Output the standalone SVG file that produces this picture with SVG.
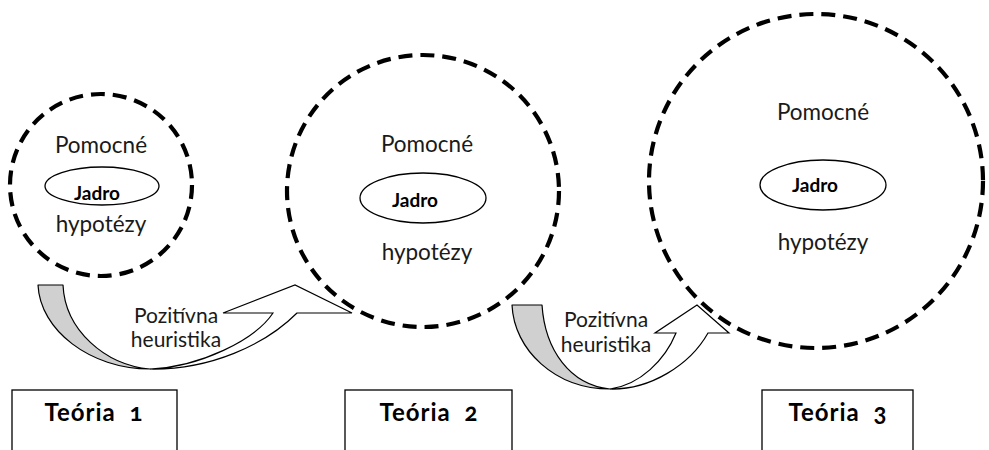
<svg xmlns="http://www.w3.org/2000/svg" width="989" height="450" viewBox="0 0 989 450">
<style>
.dash{fill:none;stroke:#000;stroke-width:4.2;stroke-dasharray:14 8}
.core{fill:#fff;stroke:#000;stroke-width:1.3}
.t{font-family:Lato,"Open Sans","DejaVu Sans",sans-serif;font-size:22.5px;fill:#1a1a1a;text-anchor:middle}
.j{font-family:Lato,"Open Sans","DejaVu Sans",sans-serif;font-size:19px;font-weight:bold;fill:#000;text-anchor:middle}
.h{font-family:Lato,"Open Sans","DejaVu Sans",sans-serif;font-size:21px;fill:#1a1a1a;text-anchor:middle}
.box{fill:#fff;stroke:#000;stroke-width:1.3}
.bt{font-family:Lato,"Open Sans","DejaVu Sans",sans-serif;font-size:24px;font-weight:bold;fill:#000;text-anchor:middle;letter-spacing:1px;word-spacing:7px;font-variant-numeric:oldstyle-nums}
.gray{fill:#d0d0d0;stroke:#000;stroke-width:1.2;stroke-linejoin:round}
.white{fill:#fff;stroke:#000;stroke-width:1.2;stroke-linejoin:miter}
</style>
<g id="connectors">
  <g id="arrow1">
    <path class="gray" d="M38,285 L63,285 C65,330 105,365 150,369 C90,369 40,330 38,285 Z"/>
    <path class="white" d="M150,369 C210,370 265,345 297,313 L352,313 L295,285 L223,313 L273,313 C255,340 200,367 150,369 Z"/>
    <text class="h" x="176" y="323">Pozitívna</text>
    <text class="h" x="176" y="347">heuristika</text>
  </g>
  <g id="arrow2">
    <path class="gray" d="M512,305 L542,305 C545,350 570,385 610,389 C555,389 514,350 512,305 Z"/>
    <path class="white" d="M610,389 C650,390 690,365 708,333 L729,333 L697,305 L655,333 L676,333 C665,360 640,385 610,389 Z"/>
    <text class="h" x="606" y="327">Pozitívna</text>
    <text class="h" x="606" y="352">heuristika</text>
  </g>
</g>
<g id="theory1">
  <circle class="dash" cx="101" cy="185" r="91"/>
  <text class="t" x="101" y="153">Pomocné</text>
  <ellipse class="core" cx="102" cy="186" rx="57" ry="19"/>
  <text class="j" x="97" y="200">Jadro</text>
  <text class="t" x="101" y="232">hypotézy</text>
</g>
<g id="theory2">
  <circle class="dash" cx="423" cy="191" r="136"/>
  <text class="t" x="427" y="152">Pomocné</text>
  <ellipse class="core" cx="423" cy="198" rx="63" ry="25"/>
  <text class="j" x="415" y="207">Jadro</text>
  <text class="t" x="427" y="260">hypotézy</text>
</g>
<g id="theory3">
  <circle class="dash" cx="816" cy="181" r="167"/>
  <text class="t" x="823" y="120">Pomocné</text>
  <ellipse class="core" cx="823" cy="185" rx="63" ry="25"/>
  <text class="j" x="815" y="192">Jadro</text>
  <text class="t" x="823" y="250">hypotézy</text>
</g>
<g id="label1">
  <rect class="box" x="12" y="390" width="165" height="70"/>
  <text class="bt" x="94" y="421">Teória 1</text>
</g>
<g id="label2">
  <rect class="box" x="345" y="390" width="167" height="70"/>
  <text class="bt" x="429" y="421">Teória 2</text>
</g>
<g id="label3">
  <rect class="box" x="762" y="390" width="151" height="70"/>
  <text class="bt" x="838" y="421">Teória 3</text>
</g>
</svg>
